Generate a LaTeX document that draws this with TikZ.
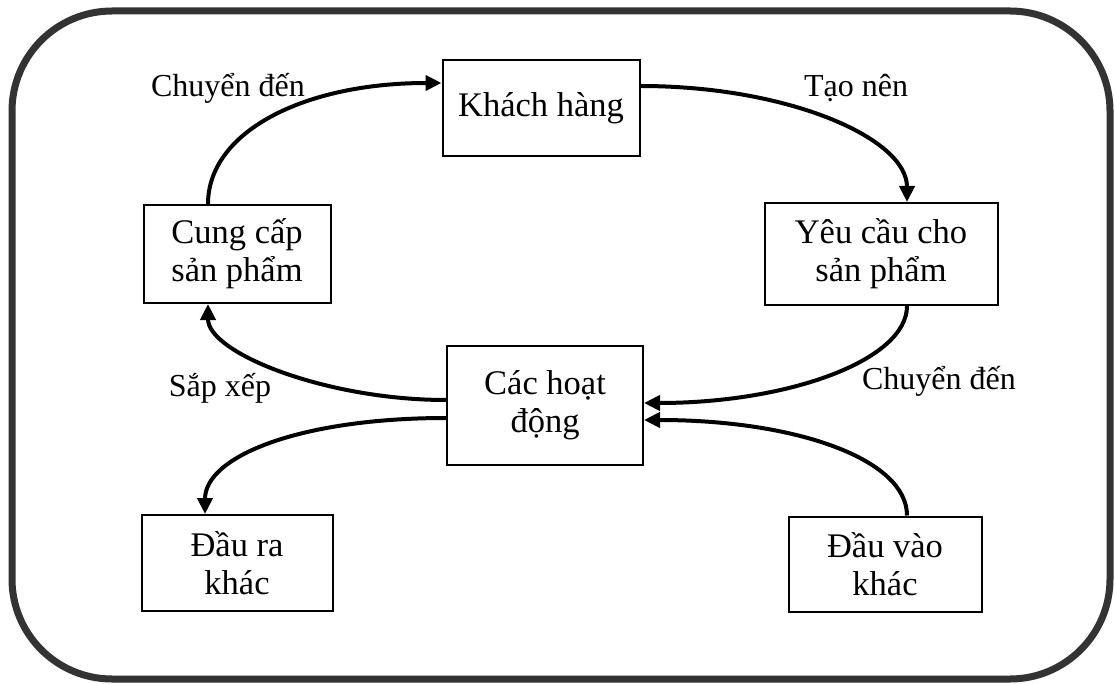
\documentclass[tikz,border=0pt]{standalone}
\usepackage{fontspec}
\setmainfont{Liberation Serif}
\usetikzlibrary{positioning,arrows.meta}
\definecolor{rim}{HTML}{333333}

\begin{document}
\begin{tikzpicture}[x=1pt,y=-1pt,
	box/.style={draw,line width=2pt,align=center,inner sep=0pt,minimum height=96pt,
		font=\fontsize{34.5}{38}\selectfont},
	lbl/.style={font=\fontsize{32}{38}\selectfont},
	flow/.style={->,line width=4pt},
	>={Triangle[length=16pt,width=15pt]}]
	\useasboundingbox (0,0) rectangle (1115,684);
	\draw[rim,line width=7pt,rounded corners=100pt] (12,11) rectangle (1110,679);

	\node[box,minimum width=197pt] (kh) at (541,108) {Khách hàng};
	\node[box,minimum width=233pt,minimum height=102pt] (yc) at (881,254) {Yêu cầu cho\\sản phẩm};
	\node[box,minimum width=187pt,minimum height=98pt] (cc) at (237,254) {Cung cấp\\sản phẩm};
	\node[box,minimum width=196pt,minimum height=119pt] (hd) at (545,405) {Các hoạt\\động};
	\node[box,minimum width=191pt] (dr) at (237,563) {Đầu ra\\khác};
	\node[box,minimum width=193pt,minimum height=95pt] (dv) at (885,564) {Đầu vào\\khác};

	\node[lbl] (lchuyen) at (228,88) {Chuyển đến};
	\node[lbl] (ltao) at (856,88) {Tạo nên};
	\node[lbl] (lchuyenb) at (939,381) {Chuyển đến};
	\node[lbl] (lsap) at (220,388) {Sắp xếp};

	\draw[flow] ([xshift=-29pt]cc.north) to[out=90,in=180,out distance=72pt,in distance=138pt] ([yshift=25pt]kh.west);
	\draw[flow] ([yshift=22pt]kh.east) to[out=0,in=90,out distance=147pt,in distance=64pt] ([xshift=26pt]yc.north);
	\draw[flow] ([xshift=26pt]yc.south) to[out=-90,in=0,out distance=54pt,in distance=145pt] ([yshift=2pt]hd.east);
	\draw[flow] ([yshift=5pt]hd.west) to[out=180,in=-90,out distance=120pt,in distance=49pt] ([xshift=-29pt]cc.south);
	\draw[flow] ([yshift=-13pt]hd.west) to[out=180,in=90,out distance=145pt,in distance=58pt] ([xshift=-32pt]dr.north);
	\draw[flow] ([xshift=22pt]dv.north) to[out=90,in=0,out distance=56pt,in distance=153pt] ([yshift=-15pt]hd.east);
\end{tikzpicture}
\end{document}
